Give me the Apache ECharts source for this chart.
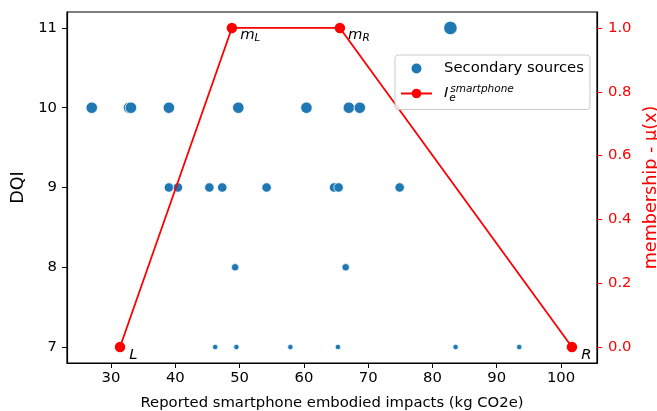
<!DOCTYPE html>
<html>
<head>
<meta charset="utf-8">
<script src="https://cdn.jsdelivr.net/npm/echarts@6/dist/echarts.min.js"></script>
<style>html,body{margin:0;padding:0;background:#fff}#c{width:657px;height:411px}</style>
</head>
<body>
<div id="c"></div>
<script>
// Secondary sources: reported impacts (kg CO2e) and DQI
const srcImpact = [27.0, 32.8, 33.1, 39.0, 49.8, 60.4, 67.0, 68.7,
                   39.0, 40.4, 45.3, 47.3, 54.2, 64.7, 65.4, 74.9,
                   49.3, 66.5,
                   46.2, 49.5, 57.9, 65.3, 83.6, 93.5,
                   82.8];
const srcDQI =    [10, 10, 10, 10, 10, 10, 10, 10,
                   9, 9, 9, 9, 9, 9, 9, 9,
                   8, 8,
                   7, 7, 7, 7, 7, 7,
                   11];
// Trapezoidal membership function I_e^smartphone
const trapX = [31.4, 48.8, 65.6, 101.7];
const trapMu = [0, 1, 1, 0];
const trapLabels = ['L', 'mL', 'mR', 'R'];
// Tick labels
const xTicks = [30, 40, 50, 60, 70, 80, 90, 100];
const dqiTicks = [7, 8, 9, 10, 11];
const muTicks = [0, 0.2, 0.4, 0.6, 0.8, 1.0];

const FONT = 'DejaVu Sans';
const FS = 14.8;
const FS_LBL = 17.6;
const sizeByDQI = {7: 5.5, 8: 7.5, 9: 9.5, 10: 11.5, 11: 13.5};

const scatterData = srcImpact.map((x, i) => [x, srcDQI[i]]);
const lineData = trapX.map((x, i) => {
  const lab = trapLabels[i];
  const txt = lab.length === 1 ? '{i|' + lab + '}' : '{i|' + lab[0] + '}{s|' + lab[1] + '}';
  return {
    value: [x, trapMu[i]],
    label: {
      show: true, position: 'right', distance: 3,
      offset: lab.length === 1 ? [1, 8] : [0, 7],
      formatter: txt,
      rich: {
        i: {fontFamily: FONT, fontStyle: 'italic', fontSize: FS, color: '#000'},
        s: {fontFamily: FONT, fontStyle: 'italic', fontSize: 10.5, color: '#000', padding: [7, 0, 0, 0]}
      }
    }
  };
});

const chart = echarts.init(document.getElementById('c'), null, {renderer: 'canvas'});
chart.setOption({
  animation: false,
  backgroundColor: '#fff',
  grid: {left: 67, right: 60, top: 12, bottom: 48, show: true, borderColor: '#000', borderWidth: 1.2,
         backgroundColor: 'transparent', containLabel: false, outerBoundsMode: 'none'},
  xAxis: {
    type: 'value', min: 23.15, max: 105.6,
    name: 'Reported smartphone embodied impacts (kg CO2e)',
    nameLocation: 'middle', nameGap: 33,
    nameTextStyle: {fontFamily: FONT, fontSize: FS, color: '#000'},
    axisLine: {show: true, onZero: false, lineStyle: {color: '#000', width: 1.2}},
    axisTick: {show: true, length: 5, lineStyle: {color: '#000', width: 1}, customValues: xTicks},
    axisLabel: {fontFamily: FONT, fontSize: FS, color: '#000', margin: 8, customValues: xTicks},
    splitLine: {show: false}
  },
  yAxis: [{
    type: 'value', min: 6.8, max: 11.2, position: 'left',
    name: 'DQI', nameLocation: 'middle', nameGap: 38,
    nameTextStyle: {fontFamily: FONT, fontSize: FS_LBL, color: '#000'},
    axisLine: {show: true, onZero: false, lineStyle: {color: '#000', width: 1.2}},
    axisTick: {show: true, length: 5, lineStyle: {color: '#000', width: 1}, customValues: dqiTicks},
    axisLabel: {fontFamily: FONT, fontSize: FS, color: '#000', margin: 10, customValues: dqiTicks},
    splitLine: {show: false}
  }, {
    type: 'value', min: -0.05, max: 1.05, position: 'right',
    name: 'membership - μ(x)', nameLocation: 'middle', nameGap: 41, nameRotate: 90,
    nameTextStyle: {fontFamily: FONT, fontSize: FS_LBL, color: '#ff0000'},
    axisLine: {show: true, onZero: false, lineStyle: {color: '#000', width: 1.2}},
    axisTick: {show: true, length: 5, lineStyle: {color: '#ff0000', width: 1}, customValues: muTicks},
    axisLabel: {fontFamily: FONT, fontSize: FS, color: '#ff0000', margin: 11, customValues: muTicks,
                formatter: v => v.toFixed(1)},
    splitLine: {show: false}
  }],
  legend: {
    orient: 'vertical', left: 395, top: 55,
    itemWidth: 31, itemHeight: 12, itemGap: 8,
    padding: [6, 6, 6, 5],
    borderColor: '#cccccc', borderWidth: 1, borderRadius: 3,
    backgroundColor: 'rgba(255,255,255,0.8)',
    textStyle: {fontFamily: FONT, fontSize: FS, color: '#000', padding: [0, 0, 0, 7],
      rich: {
        I: {fontFamily: FONT, fontStyle: 'italic', fontSize: FS, color: '#000'},
        e: {fontFamily: FONT, fontStyle: 'italic', fontSize: 10.5, color: '#000', width: 0, padding: [9, 0, 0, 1]},
        sp: {fontFamily: FONT, fontStyle: 'italic', fontSize: 10.5, color: '#000', padding: [0, 0, 8, 1]}
      }
    },
    formatter: function (name) {
      if (name === 'Ie') return '{I|I}{e|e}{sp|smartphone}';
      return name;
    },
    data: [{name: 'Secondary sources', icon: 'circle'}, {name: 'Ie'}]
  },
  series: [{
    name: 'Secondary sources', type: 'scatter', xAxisIndex: 0, yAxisIndex: 0,
    data: scatterData,
    symbolSize: v => sizeByDQI[v[1]],
    itemStyle: {color: '#1f77b4', borderColor: '#ffffff', borderWidth: 0.8, opacity: 1},
    z: 2
  }, {
    name: 'Ie', type: 'line', xAxisIndex: 0, yAxisIndex: 1,
    data: lineData,
    symbol: 'circle', symbolSize: 10.5, showAllSymbol: true,
    lineStyle: {color: '#ff0000', width: 1.8},
    itemStyle: {color: '#ff0000', borderWidth: 0},
    z: 3
  }]
});
</script>
</body>
</html>
